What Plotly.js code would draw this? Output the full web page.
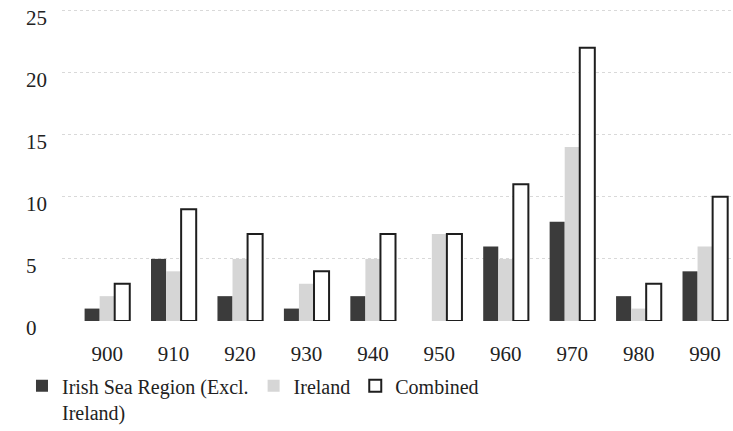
<!DOCTYPE html>
<html>
<head>
<meta charset="utf-8">
<script src="https://cdn.plot.ly/plotly-3.0.1.min.js"></script>
<style>html,body{margin:0;padding:0;background:#fff;}#chart{width:733px;height:431px;}</style>
</head>
<body>
<div id="chart"></div>
<script>
var categories = ['900','910','920','930','940','950','960','970','980','990'];
var irishSea = [1, 5, 2, 1, 2, 0, 6, 8, 2, 4];
var ireland  = [2, 4, 5, 3, 5, 7, 5, 14, 1, 6];
var combined = [3, 9, 7, 4, 7, 7, 11, 22, 3, 10];
var yTicks = [0, 5, 10, 15, 20, 25];
var yTickText = ['0\u2007', '5\u2007', '10', '15', '20', '25'];

var serif = 'Liberation Serif';

var traces = [
  {type:'bar', name:'Irish Sea Region (Excl.<br>Ireland)', x:categories, y:irishSea,
   marker:{color:'#3b3b3b', line:{width:0}}},
  {type:'bar', name:'Ireland', x:categories, y:ireland,
   marker:{color:'#d6d6d6', line:{width:0}}},
  {type:'bar', name:'Combined', x:categories, y:combined,
   marker:{color:'#ffffff', line:{color:'#1e1e1e', width:2}}}
];

var layout = {
  width:733, height:431,
  margin:{l:62, r:0, t:8, b:110},
  paper_bgcolor:'#ffffff', plot_bgcolor:'#ffffff',
  font:{family:serif, size:20, color:'#222222'},
  barmode:'group', bargap:0.32, bargroupgap:0,
  showlegend:true,
  legend:{orientation:'h', xref:'container', yref:'container', x:0.03, y:0.15,
          xanchor:'left', yanchor:'top', valign:'top',
          font:{family:serif, size:20, color:'#222222'}, traceorder:'normal'},
  xaxis:{type:'category', range:[-0.68, 9.42], showgrid:false, zeroline:false,
         showline:false, ticks:'', ticklabelstandoff:18,
         tickfont:{family:serif, size:21, color:'#222222'}},
  yaxis:{range:[0, 25.2], tickvals:yTicks, ticktext:yTickText, showgrid:true,
         gridcolor:'#d9d9d9', griddash:'dot', gridwidth:1, zeroline:false,
         showline:false, ticks:'', ticklabelstandoff:14, ticklabelshift:7,
         tickfont:{family:serif, size:21, color:'#222222'}}
};

Plotly.newPlot('chart', traces, layout, {displayModeBar:false, staticPlot:true});
</script>
</body>
</html>
